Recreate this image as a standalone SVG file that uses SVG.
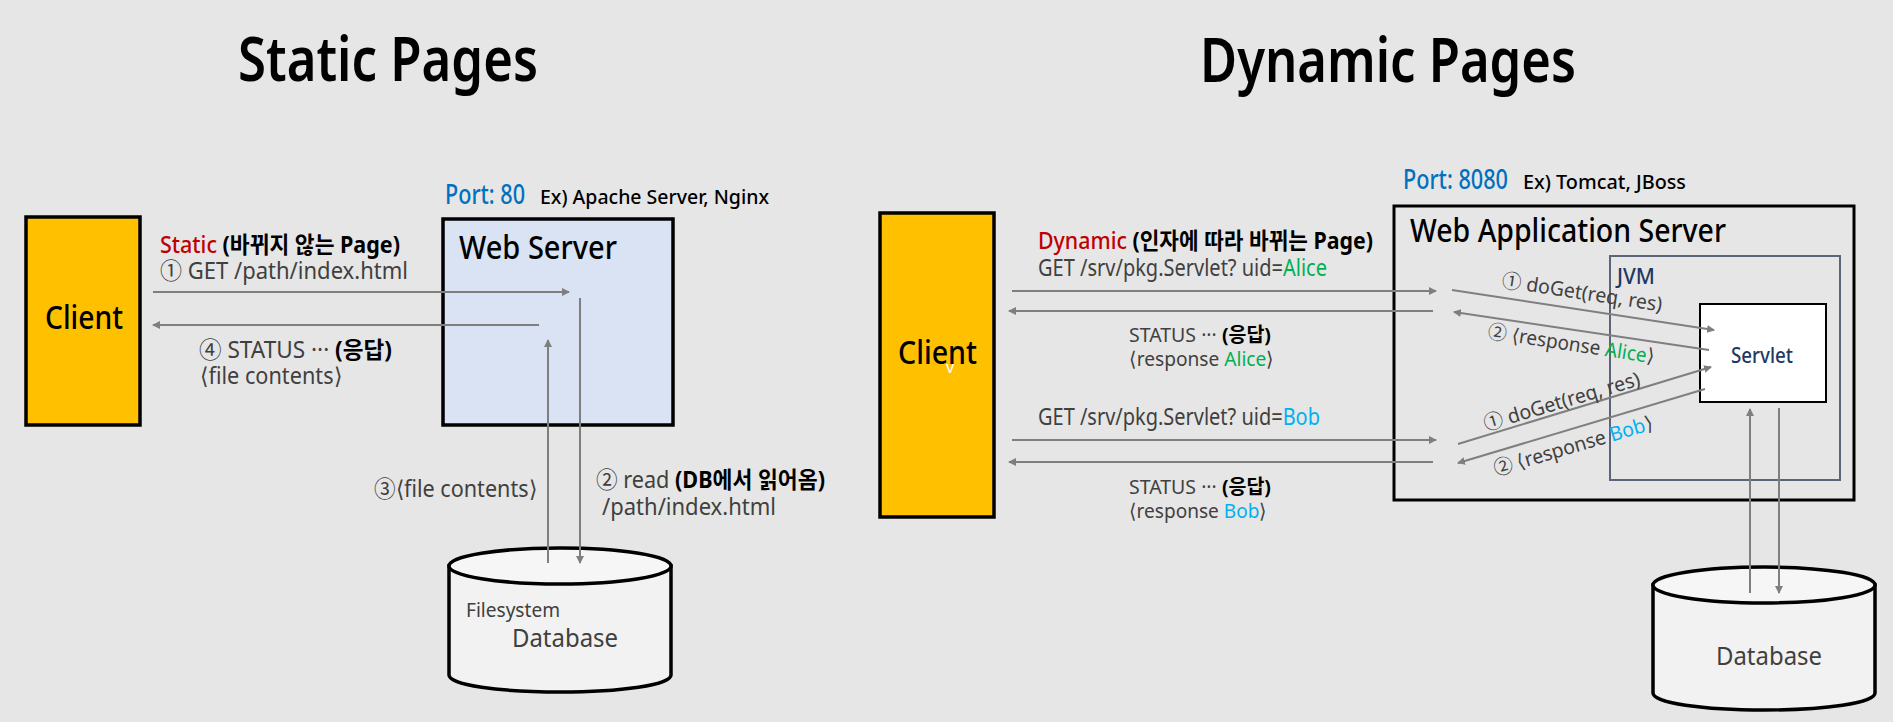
<svg xmlns="http://www.w3.org/2000/svg" width="1893" height="722" viewBox="0 0 1893 722">
<defs>
<marker id="ah" markerUnits="userSpaceOnUse" markerWidth="9" markerHeight="9" refX="7" refY="4.5" orient="auto"><path d="M0,0.5 L8,4.5 L0,8.5 Z" fill="#7f7f7f"/></marker>
</defs>
<style>
text{font-family:"Noto Sans","Noto Sans CJK KR",sans-serif;fill:#404040}
.t{font-weight:600;font-size:62px;fill:#000}
.n{fill:#000;font-size:33px;font-weight:500}
.l{font-size:23px}
.s{font-size:20px}
.b{font-weight:700;fill:#000}
.red{fill:#c00000;font-weight:500}
.blue{fill:#0070c0;font-size:27px;font-weight:500}
.ex{fill:#000;font-size:20px;font-weight:500}
.al{fill:#00b050}
.bo{fill:#00b0f0}
.box{stroke:#000;stroke-width:3.5}
.cyl{fill:#f2f2f2;stroke:#000;stroke-width:3.5}
.top{fill:#f6f6f6;stroke:#000;stroke-width:3.5}
.c line{stroke:#7f7f7f;stroke-width:2;fill:none}
.a{marker-end:url(#ah)}
</style>
<rect width="1893" height="722" fill="#e6e6e6"/>
<text class="t" x="238" y="81" textLength="300" lengthAdjust="spacingAndGlyphs">Static Pages</text>
<text class="t" x="1200" y="82" textLength="376" lengthAdjust="spacingAndGlyphs">Dynamic Pages</text>

<g id="client-static"><rect class="box" x="26" y="217" width="114" height="208" fill="#ffc000"/>
<text class="n" x="45" y="329" textLength="78" lengthAdjust="spacingAndGlyphs">Client</text></g>
<g id="web-server"><rect class="box" x="443" y="219" width="230" height="206" fill="#dae3f3"/>
<text class="n" x="459" y="259" textLength="158" lengthAdjust="spacingAndGlyphs">Web Server</text></g>
<g id="port-static"><text class="blue" x="445" y="204" textLength="80" lengthAdjust="spacingAndGlyphs">Port: 80</text>
<text class="ex" x="540" y="204" textLength="229" lengthAdjust="spacingAndGlyphs">Ex) Apache Server, Nginx</text></g>
<g id="db-static"><path class="cyl" d="M449,566 V675 C449,685 499,692 560,692 C621,692 671,685 671,675 V566 Z"/>
<ellipse class="top" cx="560" cy="566" rx="111" ry="18"/>
<text class="s" x="466" y="617" textLength="94" lengthAdjust="spacingAndGlyphs">Filesystem</text>
<text class="l" x="512" y="647" style="font-size:25px" textLength="106" lengthAdjust="spacingAndGlyphs">Database</text></g>

<g id="client-dynamic"><rect class="box" x="880" y="213" width="114" height="304" fill="#ffc000"/>
<text class="n" x="898" y="364" textLength="79" lengthAdjust="spacingAndGlyphs">Client</text>
<text x="946" y="373" font-size="16" style="fill:#fff">v</text></g>
<g id="was"><rect x="1394" y="206" width="460" height="294" fill="none" stroke="#000" stroke-width="3"/>
<text class="n" x="1410" y="242" textLength="316" lengthAdjust="spacingAndGlyphs">Web Application Server</text></g>
<g id="port-dynamic"><text class="blue" x="1403" y="189" textLength="105" lengthAdjust="spacingAndGlyphs">Port: 8080</text>
<text class="ex" x="1523" y="189" textLength="163" lengthAdjust="spacingAndGlyphs">Ex) Tomcat, JBoss</text></g>
<g id="jvm"><rect x="1610" y="256" width="230" height="224" fill="none" stroke="#5b6577" stroke-width="2"/>
<text x="1617" y="284" font-size="21" style="fill:#1f3864;font-weight:500" textLength="38" lengthAdjust="spacingAndGlyphs">JVM</text></g>
<g id="servlet"><rect x="1700" y="304" width="126" height="98" fill="#fff" stroke="#000" stroke-width="2"/>
<text x="1731" y="363" font-size="22" style="fill:#1f3864;font-weight:500" textLength="62" lengthAdjust="spacingAndGlyphs">Servlet</text></g>
<g id="db-dynamic"><path class="cyl" d="M1653,585 V693 C1653,703 1703,710 1764,710 C1825,710 1875,703 1875,693 V585 Z"/>
<ellipse class="top" cx="1764" cy="585" rx="111" ry="18"/>
<text class="l" x="1716" y="665" style="font-size:25px" textLength="106" lengthAdjust="spacingAndGlyphs">Database</text></g>

<g id="connectors" class="c">
<line class="a" x1="153" y1="292" x2="569" y2="292"/>
<line class="a" x1="539" y1="325" x2="153" y2="325"/>
<line class="a" x1="580" y1="298" x2="580" y2="563"/>
<line class="a" x1="548" y1="563" x2="548" y2="340"/>
<line class="a" x1="1012" y1="291" x2="1436" y2="291"/>
<line class="a" x1="1433" y1="311" x2="1009" y2="311"/>
<line class="a" x1="1012" y1="440" x2="1436" y2="440"/>
<line class="a" x1="1433" y1="462" x2="1009" y2="462"/>
<line class="a" x1="1452" y1="290" x2="1714" y2="330"/>
<line class="a" x1="1709" y1="350" x2="1454" y2="312"/>
<line class="a" x1="1458" y1="444" x2="1711" y2="367"/>
<line class="a" x1="1705" y1="389" x2="1458" y2="463"/>
<line class="a" x1="1750" y1="593" x2="1750" y2="409"/>
<line class="a" x1="1779" y1="408" x2="1779" y2="593"/>
</g>

<g id="labels">
<text class="l" x="160" y="253" textLength="240" lengthAdjust="spacingAndGlyphs"><tspan class="red">Static </tspan><tspan class="b">(바뀌지 않는 Page)</tspan></text>
<text class="l" x="160" y="279" textLength="248" lengthAdjust="spacingAndGlyphs">① GET /path/index.html</text>
<text class="l" x="199" y="358" textLength="193" lengthAdjust="spacingAndGlyphs">④ STATUS ··· <tspan class="b">(응답)</tspan></text>
<text class="l" x="200" y="384" textLength="142" lengthAdjust="spacingAndGlyphs">⟨file contents⟩</text>
<text class="l" x="374" y="497" textLength="163" lengthAdjust="spacingAndGlyphs">③⟨file contents⟩</text>
<text class="l" x="596" y="488" textLength="229" lengthAdjust="spacingAndGlyphs">② read <tspan class="b">(DB에서 읽어옴)</tspan></text>
<text class="l" x="602" y="515" textLength="174" lengthAdjust="spacingAndGlyphs">/path/index.html</text>

<text class="l" x="1038" y="249" textLength="335" lengthAdjust="spacingAndGlyphs"><tspan class="red">Dynamic </tspan><tspan class="b">(인자에 따라 바뀌는 Page)</tspan></text>
<text class="l" x="1038" y="276" textLength="289" lengthAdjust="spacingAndGlyphs">GET /srv/pkg.Servlet? uid=<tspan class="al">Alice</tspan></text>
<text class="s" x="1129" y="342" textLength="142" lengthAdjust="spacingAndGlyphs">STATUS ··· <tspan class="b">(응답)</tspan></text>
<text class="s" x="1129" y="366" textLength="145" lengthAdjust="spacingAndGlyphs">⟨response <tspan class="al">Alice</tspan>⟩</text>
<text class="l" x="1038" y="425" textLength="282" lengthAdjust="spacingAndGlyphs">GET /srv/pkg.Servlet? uid=<tspan class="bo">Bob</tspan></text>
<text class="s" x="1129" y="494" textLength="142" lengthAdjust="spacingAndGlyphs">STATUS ··· <tspan class="b">(응답)</tspan></text>
<text class="s" x="1129" y="518" textLength="138" lengthAdjust="spacingAndGlyphs">⟨response <tspan class="bo">Bob</tspan>⟩</text>

<text class="s" transform="translate(1501,287) rotate(8.7)" textLength="162" lengthAdjust="spacingAndGlyphs">① doGet(req, res)</text>
<text class="s" transform="translate(1487,338) rotate(8.7)" textLength="168" lengthAdjust="spacingAndGlyphs">② ⟨response <tspan class="al">Alice</tspan>⟩</text>
<text class="s" transform="translate(1486,431) rotate(-16.5)" textLength="162" lengthAdjust="spacingAndGlyphs">① doGet(req, res)</text>
<text class="s" transform="translate(1496,476) rotate(-16.5)" textLength="165" lengthAdjust="spacingAndGlyphs">② ⟨response <tspan class="bo">Bob</tspan>⟩</text>
</g>
</svg>
